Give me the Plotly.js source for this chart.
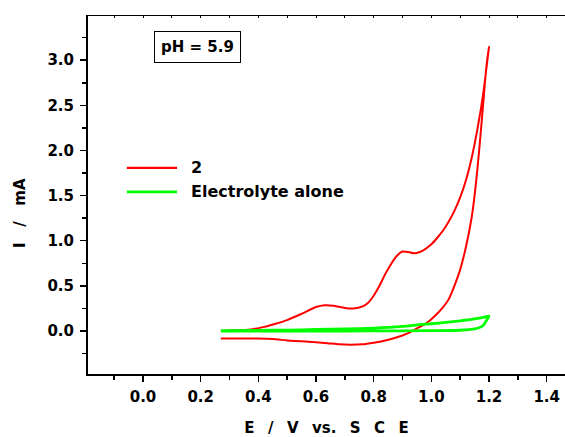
<!DOCTYPE html>
<html>
<head>
<meta charset="utf-8">
<script src="https://cdn.plot.ly/plotly-3.0.1.min.js"></script>
<style>html,body{margin:0;padding:0;overflow:hidden;background:#fff;}</style>
</head>
<body>
<div id="chart" style="width:565px;height:437px;"></div>
<script>
// Complex 2: anodic (forward) scan then reverse scan
const redFwdE = [0.27, 0.30, 0.34, 0.38, 0.42, 0.46, 0.50, 0.55, 0.60, 0.63, 0.66, 0.70, 0.73, 0.76, 0.78, 0.80, 0.82, 0.84, 0.86, 0.88, 0.90, 0.92, 0.94, 0.96, 0.98, 1.00, 1.02, 1.04, 1.06, 1.08, 1.10, 1.12, 1.14, 1.16, 1.18, 1.20];
const redFwdI = [0.00, 0.005, 0.01, 0.02, 0.045, 0.08, 0.12, 0.19, 0.265, 0.285, 0.28, 0.255, 0.25, 0.27, 0.31, 0.39, 0.50, 0.63, 0.74, 0.83, 0.88, 0.875, 0.86, 0.875, 0.91, 0.96, 1.03, 1.11, 1.21, 1.33, 1.48, 1.67, 1.92, 2.24, 2.63, 3.15];
const redRevE = [1.19, 1.18, 1.17, 1.16, 1.15, 1.14, 1.12, 1.10, 1.08, 1.06, 1.04, 1.02, 1.00, 0.98, 0.96, 0.94, 0.92, 0.90, 0.87, 0.84, 0.80, 0.76, 0.72, 0.68, 0.64, 0.60, 0.55, 0.50, 0.45, 0.40, 0.34, 0.27];
const redRevI = [2.90, 2.52, 2.15, 1.80, 1.50, 1.26, 0.93, 0.68, 0.50, 0.35, 0.26, 0.19, 0.13, 0.08, 0.045, 0.01, -0.025, -0.05, -0.08, -0.105, -0.13, -0.148, -0.152, -0.148, -0.135, -0.125, -0.115, -0.105, -0.09, -0.085, -0.085, -0.085];
// Electrolyte alone
const grnFwdE = [0.27, 0.40, 0.50, 0.60, 0.70, 0.80, 0.90, 0.96, 1.00, 1.05, 1.10, 1.15, 1.18, 1.20];
const grnFwdI = [0.003, 0.006, 0.010, 0.016, 0.022, 0.031, 0.050, 0.070, 0.080, 0.095, 0.112, 0.133, 0.150, 0.166];
const grnRevE = [1.19, 1.18, 1.16, 1.13, 1.10, 1.00, 0.80, 0.60, 0.40, 0.27];
const grnRevI = [0.11, 0.06, 0.03, 0.015, 0.008, 0.003, 0.0, -0.002, -0.002, -0.002];

const seriesNames = ["2", "Electrolyte alone"];
const xTickVals = [0.0, 0.2, 0.4, 0.6, 0.8, 1.0, 1.2, 1.4];
const yTickVals = [0.0, 0.5, 1.0, 1.5, 2.0, 2.5, 3.0];

const RED = "#ff0000", GREEN = "#00ff00";
const FONT = {family: "DejaVu Sans", weight: "bold", color: "#000"};
const xr = [-0.1908, 1.4636], yr = [-0.477, 3.49];

const traces = [
  {x: redFwdE.concat(redRevE), y: redFwdI.concat(redRevI), type: "scatter", mode: "lines",
   name: seriesNames[0], line: {color: RED, width: 2, shape: "spline", smoothing: 0.6}, showlegend: false},
  {x: grnFwdE.concat(grnRevE), y: grnFwdI.concat(grnRevI), type: "scatter", mode: "lines",
   name: seriesNames[1], line: {color: GREEN, width: 2.8, shape: "spline", smoothing: 0.6}, showlegend: false},
  {x: [xr[0]], y: [yr[0]], xaxis: "x2", type: "scatter", mode: "markers", marker: {opacity: 0}, showlegend: false, hoverinfo: "skip"}
];

// legend built from the series names
const legY = [1.807, 1.541];
const shapes = [], annotations = [];
[RED, GREEN].forEach((c, i) => {
  shapes.push({type: "line", xref: "x", yref: "y", x0: -0.056, x1: 0.118, y0: legY[i], y1: legY[i],
    line: {color: c, width: i === 0 ? 2.2 : 2.8}});
  annotations.push({xref: "x", yref: "y", x: 0.158, y: legY[i], xanchor: "left", yanchor: "middle",
    text: seriesNames[i], showarrow: false, font: Object.assign({size: 16}, FONT)});
});
annotations.push({xref: "x", yref: "y", x: 0.188, y: 3.149, xanchor: "center", yanchor: "middle",
  text: "pH = 5.9", showarrow: false, font: Object.assign({size: 15}, FONT),
  bordercolor: "#000", borderwidth: 1, borderpad: 6, bgcolor: "#fff"});

const nb = "\u00a0", gap = "\u00a0\u00a0\u2009";
const layout = {
  width: 565, height: 437,
  margin: {l: 88, r: 0, t: 16, b: 63, pad: 0},
  paper_bgcolor: "#fff", plot_bgcolor: "#fff",
  showlegend: false,
  xaxis: {
    range: xr, showgrid: false, zeroline: false, showline: true, linecolor: "#000", linewidth: 2,
    tickvals: xTickVals, tickformat: ".1f", ticks: "outside", ticklen: 6, tickwidth: 1.5, tickcolor: "#000",
    minor: {dtick: 0.1, tick0: 0, ticks: "outside", ticklen: 4, tickwidth: 1.5, tickcolor: "#000"},
    tickfont: Object.assign({size: 15}, FONT), ticklabelstandoff: 2,
    title: {text: "\u2009\u2009" + ["E", "/", "V", "vs.", "S", "C", "E"].join(gap), font: Object.assign({size: 15}, FONT), standoff: 20}
  },
  xaxis2: {
    range: xr, overlaying: "x", side: "top", anchor: "y", showgrid: false, zeroline: false,
    showline: true, linecolor: "#000", linewidth: 1.5, showticklabels: false,
    ticks: "inside", ticklen: 2, tickwidth: 1, tickcolor: "#000", dtick: 0.1, tick0: 0
  },
  yaxis: {
    range: yr, showgrid: false, zeroline: false, showline: true, linecolor: "#000", linewidth: 2,
    tickvals: yTickVals, tickformat: ".1f", ticks: "outside", ticklen: 6, tickwidth: 1.5, tickcolor: "#000",
    minor: {dtick: 0.25, tick0: 0, ticks: "outside", ticklen: 4, tickwidth: 1.5, tickcolor: "#000"},
    tickfont: Object.assign({size: 15}, FONT), ticklabelstandoff: 3,
    title: {text: ["I", "/", "mA"].join(nb + nb + nb) + '<span style="color:rgba(0,0,0,0)">' + nb + 'mm</span>', font: Object.assign({size: 15}, FONT), standoff: 18}
  },
  shapes: shapes,
  annotations: annotations
};

Plotly.newPlot("chart", traces, layout, {displayModeBar: false, staticPlot: true});
</script>
</body>
</html>
